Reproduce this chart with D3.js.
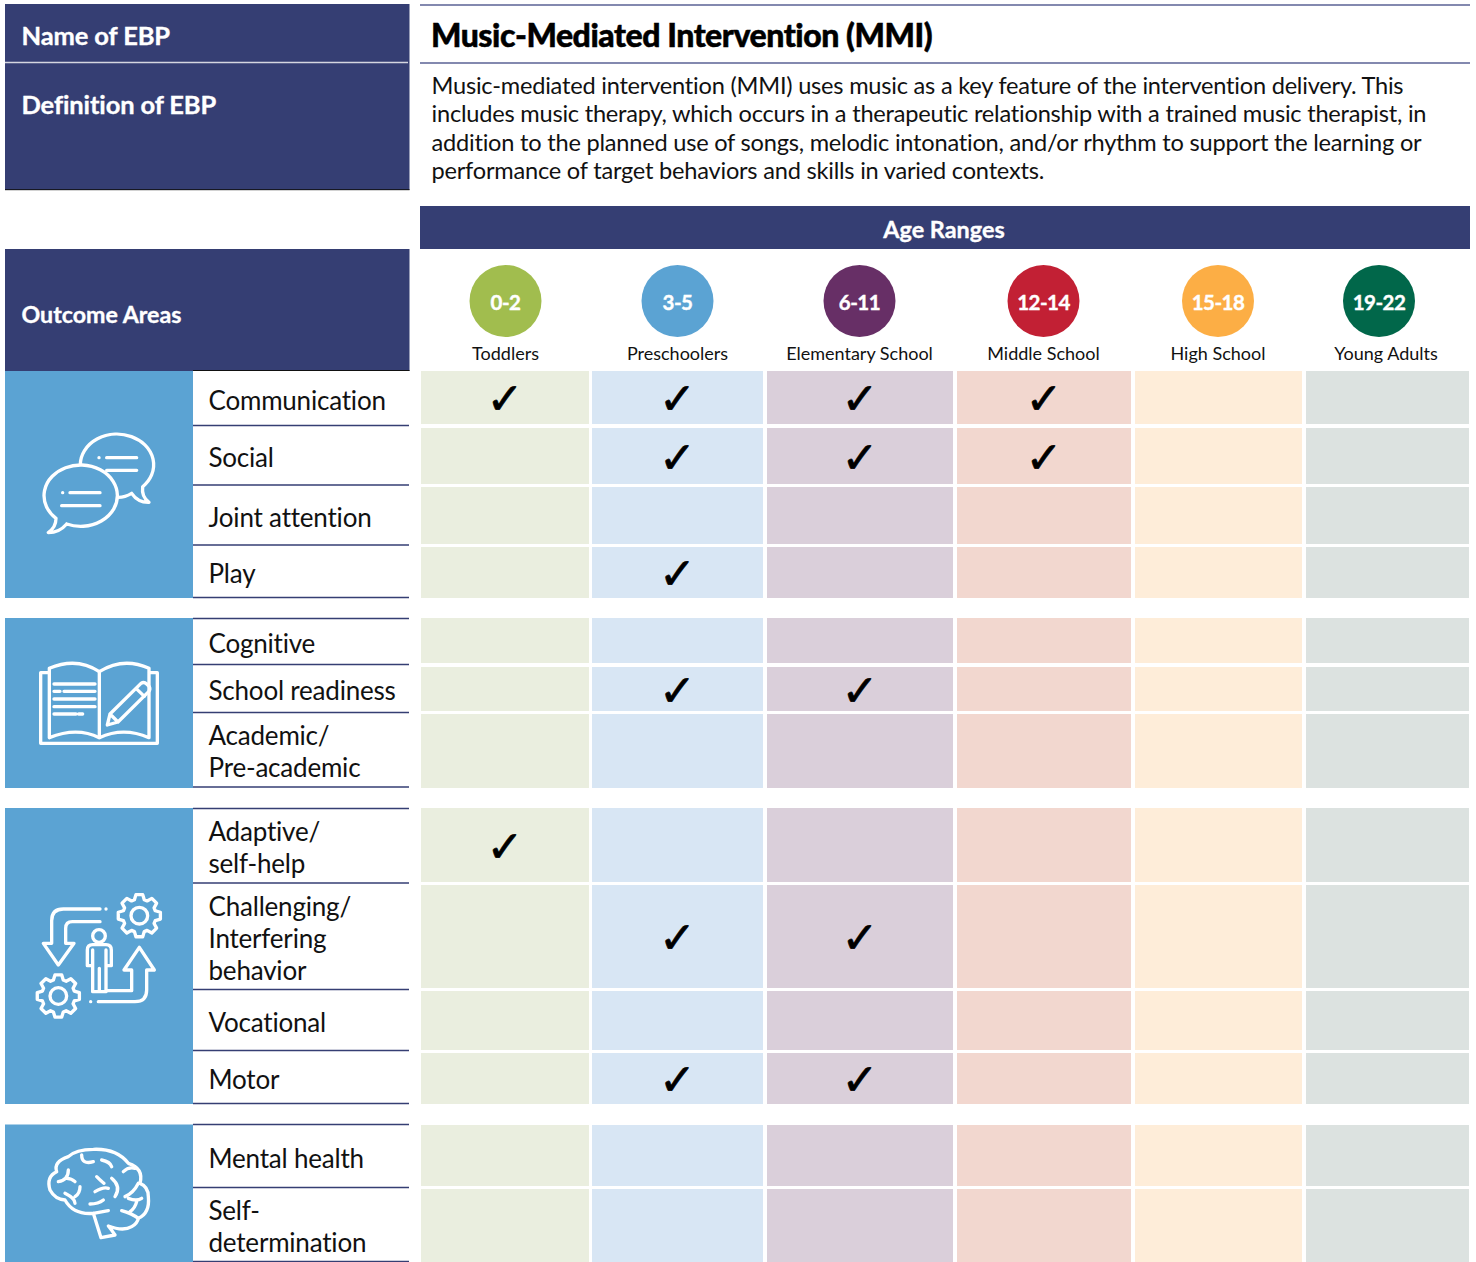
<!DOCTYPE html>
<html>
<head>
<meta charset="utf-8">
<script src="https://cdnjs.cloudflare.com/ajax/libs/d3/7.8.5/d3.min.js"></script>
<style>
  body { margin: 0; background: #fff; }
  svg { display: block; }
  text { font-family: Lato, sans-serif; fill: #111; }
  .head { font-weight: 700; fill: #fff; stroke: #fff; stroke-width: 0.35; }
  .icon path, .icon circle { fill: none; stroke: #fff; stroke-width: 10; stroke-linecap: round; stroke-linejoin: round; }
</style>
</head>
<body>
<svg width="1476" height="1262"></svg>
<script>
// Data
const title = "Music-Mediated Intervention (MMI)";
const definition = [
  "Music-mediated intervention (MMI) uses music as a key feature of the intervention delivery. This",
  "includes music therapy, which occurs in a therapeutic relationship with a trained music therapist, in",
  "addition to the planned use of songs, melodic intonation, and/or rhythm to support the learning or",
  "performance of target behaviors and skills in varied contexts."
];
const ages = ["0-2", "3-5", "6-11", "12-14", "15-18", "19-22"];
const ageNames = ["Toddlers", "Preschoolers", "Elementary School", "Middle School", "High School", "Young Adults"];
const outcomes = ["Communication", "Social", "Joint attention", "Play", "Cognitive", "School readiness",
  "Academic/\nPre-academic", "Adaptive/\nself-help", "Challenging/\nInterfering\nbehavior", "Vocational",
  "Motor", "Mental health", "Self-\ndetermination"];
const checked = [
  ["0-2", "3-5", "6-11", "12-14"],
  ["3-5", "6-11", "12-14"],
  [],
  ["3-5"],
  [],
  ["3-5", "6-11"],
  [],
  ["0-2"],
  ["3-5", "6-11"],
  [],
  ["3-5", "6-11"],
  [],
  []
];
const outcomeGroups = [
  ["Communication", "Play"],
  ["Cognitive", "Academic/\nPre-academic"],
  ["Adaptive/\nself-help", "Motor"],
  ["Mental health", "Self-\ndetermination"]
];

// Colours
const navy = "#353e73";
const groupBlue = "#5ba3d3";
const ageColor = d3.scaleOrdinal().domain(ages)
  .range(["#a1bd4e", "#5ba3d3", "#672f66", "#c22034", "#fcae45", "#01674a"]);
const cellColor = d3.scaleOrdinal().domain(ages)
  .range(["#eaeedf", "#d8e6f4", "#dacfda", "#f2d7cf", "#feedd9", "#dce2e0"]);

// Layout scales (the grid is not even, so these are ordinal)
const cellLeft = d3.scaleOrdinal().domain(ages).range([421, 592, 767, 957, 1135, 1306]);
const cellRight = d3.scaleOrdinal().domain(ages).range([589, 763, 953, 1131, 1302, 1469]);
const circleX = d3.scaleOrdinal().domain(ages).range([505.5, 677.5, 859.5, 1043.5, 1218, 1379]);
const nameX = d3.scaleOrdinal().domain(ages).range([505.5, 677.5, 859.5, 1043.5, 1218, 1386]);
const cellTop = d3.scaleOrdinal().domain(outcomes)
  .range([371, 428, 487, 547, 618, 667, 714, 808, 885, 991, 1053, 1125, 1189]);
const cellBottom = d3.scaleOrdinal().domain(outcomes)
  .range([424, 484, 544, 598, 663, 711, 788, 882, 988, 1050, 1104, 1186, 1262]);
const ruleY = d3.scaleOrdinal().domain(outcomes)
  .range([425.5, 485, 545, 597.5, 664.5, 712.5, 787, 883, 989.5, 1050.5, 1103.5, 1187.5, 1261.5]);
const groupTop = d3.scaleOrdinal().domain(outcomes)
  .range([371, 0, 0, 0, 618, 0, 0, 808, 0, 0, 0, 1124.5, 0]);

const svg = d3.select("svg");

// header blocks
const headBlocks = [[5, 4, 404.5, 186], [5, 249, 404.5, 122], [420, 206, 1050, 43]];
svg.append("g").selectAll("rect").data(headBlocks).join("rect")
  .attr("x", d => d[0]).attr("y", d => d[1]).attr("width", d => d[2]).attr("height", d => d[3])
  .attr("fill", navy);

const hLine = (x1, x2, y, color, w) => svg.append("line")
  .attr("x1", x1).attr("x2", x2).attr("y1", y).attr("y2", y)
  .attr("stroke", color).attr("stroke-width", w);

hLine(5, 408, 62.5, "#d5d6e0", 1.5);
hLine(5, 409.5, 189.7, "#111", 1);
hLine(193, 409.5, 370.5, "#111", 1);
hLine(420, 1470, 5, "#5a6294", 1.5);
hLine(420, 1470, 63, "#5a6294", 1.5);

svg.append("text").attr("class", "head").attr("x", 21.5).attr("y", 45)
  .style("font-size", "25.5px").style("letter-spacing", "-0.12px").text("Name of EBP");
svg.append("text").attr("class", "head").attr("x", 21.5).attr("y", 114)
  .style("font-size", "25.5px").style("letter-spacing", "-0.12px").text("Definition of EBP");
svg.append("text").attr("class", "head").attr("x", 21.5).attr("y", 322.5)
  .style("font-size", "23.2px").text("Outcome Areas");
svg.append("text").attr("class", "head").attr("x", 944).attr("y", 237.5)
  .attr("text-anchor", "middle").style("font-size", "23.4px").text("Age Ranges");

svg.append("text").attr("x", 431).attr("y", 47)
  .style("font-size", "32px").style("font-weight", 900).style("fill", "#000")
  .style("stroke", "#000").style("stroke-width", 0.5)
  .style("letter-spacing", "-0.45px").text(title);

svg.append("g").selectAll("text").data(definition).join("text")
  .attr("x", 431.5).attr("y", (d, i) => 93.5 + i * 28.6)
  .style("font-size", "23.6px").style("letter-spacing", "-0.22px").text(d => d);

// age circles
const ageHead = svg.append("g").selectAll("g").data(ages).join("g");
ageHead.append("circle")
  .attr("cx", d => circleX(d)).attr("cy", 301).attr("r", 36)
  .attr("fill", d => ageColor(d));
ageHead.append("text")
  .attr("x", d => circleX(d)).attr("y", 309.5).attr("text-anchor", "middle")
  .style("font-size", "20.5px").style("font-weight", 700).style("fill", "#fff")
  .style("stroke", "#fff").style("stroke-width", 0.4)
  .style("letter-spacing", "-0.5px").text(d => d);
ageHead.append("text")
  .attr("x", d => nameX(d)).attr("y", 360).attr("text-anchor", "middle")
  .style("font-size", "18px").text((d, i) => ageNames[i]);

// blue blocks for the outcome groups
svg.append("g").selectAll("rect").data(outcomeGroups).join("rect")
  .attr("x", 5).attr("width", 188)
  .attr("y", d => groupTop(d[0]))
  .attr("height", d => cellBottom(d[1]) - groupTop(d[0]))
  .attr("fill", groupBlue);

// table cells
const rows = svg.append("g").selectAll("g").data(outcomes).join("g");
rows.selectAll("rect").data(() => ages).join("rect")
  .attr("x", d => cellLeft(d))
  .attr("width", d => cellRight(d) - cellLeft(d))
  .attr("y", function() { return cellTop(d3.select(this.parentNode).datum()); })
  .attr("height", function() {
    const o = d3.select(this.parentNode).datum();
    return cellBottom(o) - cellTop(o);
  })
  .attr("fill", d => cellColor(d));

// check marks
rows.selectAll("text.check").data((d, i) => checked[i].map(a => ({ age: a, outcome: d }))).join("text")
  .attr("class", "check")
  .attr("x", d => (cellLeft(d.age) + cellRight(d.age)) / 2)
  .attr("y", d => (cellTop(d.outcome) + cellBottom(d.outcome)) / 2 + 16.5)
  .attr("text-anchor", "middle")
  .style("font-family", "'DejaVu Sans'").style("font-size", "44px").style("fill", "#000")
  .style("stroke", "#000").style("stroke-width", 0.7)
  .text("\u2713");

// row rules and labels
rows.append("line")
  .attr("x1", 193).attr("x2", 409)
  .attr("y1", d => ruleY(d)).attr("y2", d => ruleY(d))
  .attr("stroke", navy).attr("stroke-width", 1.3);

const lineGap = 32;
rows.append("text")
  .attr("y", d => {
    const o = d;
    const top = groupTop(o) || ruleY(outcomes[outcomes.indexOf(o) - 1]);
    return (top + ruleY(o)) / 2 + 11.5 - (o.split("\n").length - 1) * lineGap / 2;
  })
  .style("font-size", "26px").style("letter-spacing", "-0.2px")
  .selectAll("tspan").data(d => d.split("\n")).join("tspan")
  .attr("x", 208.5).attr("dy", (d, i) => i ? lineGap : 0)
  .text(d => d);

hLine(193, 409, 618.5, navy, 1.3);
hLine(193, 409, 808.5, navy, 1.3);
hLine(193, 409, 1124.5, navy, 1.3);

// icons, drawn in 3x units to line up with the crops
const gearLine = d3.lineRadial().curve(d3.curveLinearClosed);
function gear(g, cx, cy) {
  const pts = d3.range(8).flatMap(i => {
    const t = i * Math.PI / 4;
    return [[t - 0.3, 50], [t - 0.16, 64], [t + 0.16, 64], [t + 0.3, 50]];
  });
  g.append("path").attr("transform", `translate(${cx},${cy})`).attr("d", gearLine(pts));
  g.append("circle").attr("cx", cx).attr("cy", cy).attr("r", 25);
}

const iconPaths = [
  // speech bubbles
  { dy: 370, d: [
    "M200 462A110 92 0 1 0 168 445Q168 472 145 488Q178 488 200 462",
    "M241 283A110 92 0 1 1 428 350Q424 380 447 397Q414 398 395 370Q375 382 355 382",
    "M188 368h.1M210 368H300M185 407H300",
    "M297 263h.1M320 263H410M320 301H410"
  ] },
  // book and pencil
  { dy: 370, d: [
    "M145 908H122V1120H472V908H449",
    "M148 895Q230 860 298 905Q370 860 447 895V1103Q370 1070 298 1103Q230 1070 148 1103Z",
    "M298 905V1103",
    "M162 942H285M162 964H180M192 964H285M162 987H285M162 1010H285M162 1032H228M236 1032H248",
    "M322 1065L330 1032L423 940Q432 934 440 942L448 950Q452 958 446 965L354 1056ZM330 1032L354 1056M408 955L433 979"
  ] },
  // arrows and person
  { dy: 800, d: [
    "M300 327H190Q155 327 155 362V430H130L175 495L222 430H197V385Q197 365 217 365H300M318 327h.1",
    "M320 572H395V510H372L418 442L463 510H440V570Q440 605 405 605H295M272 605h.1",
    "M262 497V450Q262 434 278 434H318Q334 434 334 450V497H318V575H278V497H262M278 450V497M318 450V497M298 505V575"
  ], circles: [[297, 408, 19]], gears: [[418, 347], [175, 588]] },
  // brain
  { dy: 800, d: [
    "M280 1240L303 1313L345 1305Q335 1290 325 1278Q370 1295 395 1280Q412 1270 415 1255Q450 1240 445 1190Q445 1160 420 1150Q432 1105 385 1090Q350 1045 280 1048Q228 1048 205 1070Q160 1085 170 1115Q138 1130 150 1170Q165 1198 195 1200Q220 1245 280 1240L325 1232",
    "M245 1065Q245 1095 280 1085M305 1080Q330 1085 335 1100M175 1145Q205 1140 205 1110M200 1135Q215 1135 225 1145",
    "M370 1115Q385 1100 405 1105M290 1130Q305 1145 312 1150M285 1175Q310 1160 325 1165M335 1135Q365 1160 345 1190",
    "M195 1180Q225 1195 225 1210M225 1190Q240 1180 240 1160M270 1212Q295 1212 310 1200M375 1190Q400 1180 415 1150",
    "M385 1195Q410 1205 425 1195M410 1205Q405 1225 390 1235M365 1232Q395 1240 415 1255"
  ] }
];

iconPaths.forEach(ic => {
  const g = svg.append("g").attr("class", "icon")
    .attr("transform", `translate(0,${ic.dy}) scale(${1 / 3})`);
  ic.d.forEach(p => g.append("path").attr("d", p));
  (ic.circles || []).forEach(c => g.append("circle").attr("cx", c[0]).attr("cy", c[1]).attr("r", c[2]));
  (ic.gears || []).forEach(c => gear(g, c[0], c[1]));
});
</script>
</body>
</html>
